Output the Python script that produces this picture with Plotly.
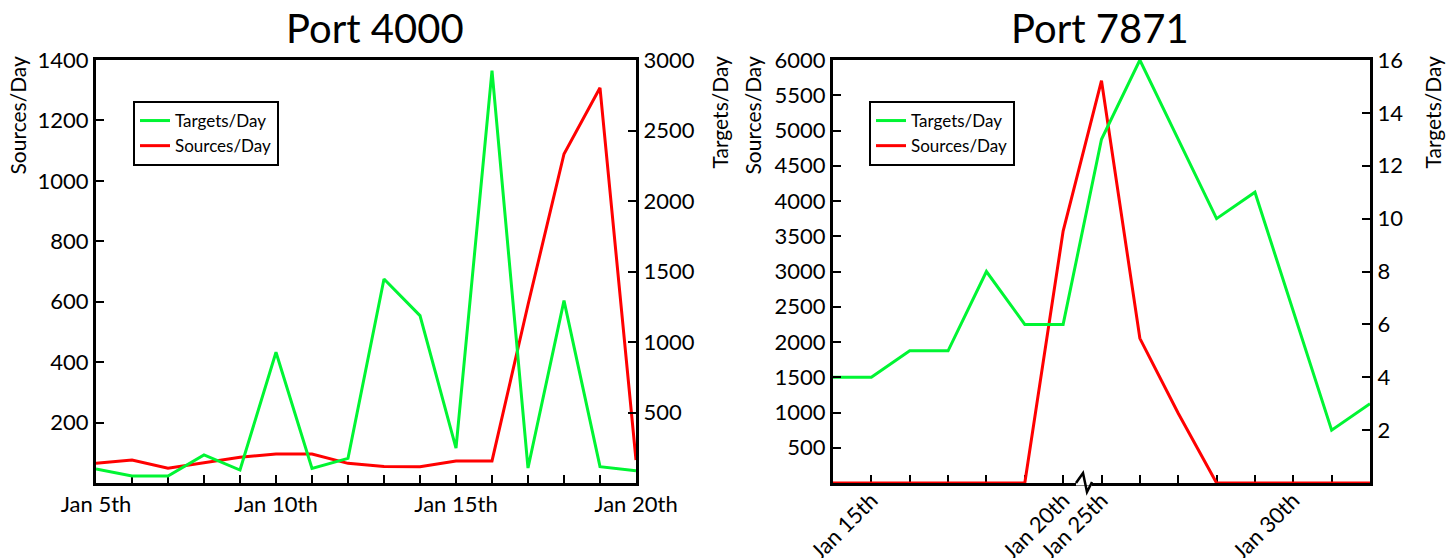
import plotly.graph_objects as go

# ---------------- data ----------------
# Port 4000
p4000_days = ["Jan 5", "Jan 6", "Jan 7", "Jan 8", "Jan 9", "Jan 10", "Jan 11", "Jan 12",
              "Jan 13", "Jan 14", "Jan 15", "Jan 16", "Jan 17", "Jan 18", "Jan 19", "Jan 20"]
p4000_targets = [99, 50, 50, 199, 92, 927, 104, 175, 1447, 1187, 248, 2924, 106, 1293, 116, 87]
p4000_sources = [65, 76, 49, 68, 85, 96, 96, 65, 55, 54, 73, 73, 590, 1089, 1308, 76]
p4000_label_days = ["Jan 5", "Jan 10", "Jan 15", "Jan 20"]
p4000_label_text = ["Jan 5th", "Jan 10th", "Jan 15th", "Jan 20th"]
p4000_src_ticks = [200, 400, 600, 800, 1000, 1200, 1400]
p4000_tgt_ticks = [500, 1000, 1500, 2000, 2500, 3000]

# Port 7871 (axis broken between Jan 20 and Jan 25)
p7871_days = ["Jan 14", "Jan 15", "Jan 16", "Jan 17", "Jan 18", "Jan 19", "Jan 20",
              "Jan 25", "Jan 26", "Jan 27", "Jan 28", "Jan 29", "Jan 30", "Jan 31", "Feb 1"]
p7871_targets = [4, 4, 5, 5, 8, 6, 6, 13, 16, 13, 10, 11, 6.5, 2, 3]
p7871_sources = [0, 0, 0, 0, 0, 0, 3574, 5706, 2052, 989, 0, 0, 0, 0, 0]
p7871_label_days = ["Jan 15", "Jan 20", "Jan 25", "Jan 30"]
p7871_label_text = ["Jan 15th", "Jan 20th", "Jan 25th", "Jan 30th"]
p7871_src_ticks = list(range(500, 6001, 500))
p7871_tgt_ticks = [2, 4, 6, 8, 10, 12, 14, 16]

GREEN = "#00F533"
RED = "#FF0000"
FONT = "Lato"
OFF = 8                      # page body margin in the browser
W, H = 1455 - OFF, 558 - OFF


def px_x(x):
    return (x - OFF) / W


def px_y(y):
    return 1 - (y - OFF) / H


def ticktext(days, label_days, label_text):
    m = dict(zip(label_days, label_text))
    return [m.get(d, "") for d in days]


fig = go.Figure()

# left subplot
fig.add_trace(go.Scatter(x=p4000_days, y=p4000_targets, name="Targets/Day", mode="lines",
                         line=dict(color=GREEN, width=3), xaxis="x", yaxis="y2", legend="legend"))
fig.add_trace(go.Scatter(x=p4000_days, y=p4000_sources, name="Sources/Day", mode="lines",
                         line=dict(color=RED, width=3), xaxis="x", yaxis="y", legend="legend"))
# right subplot
fig.add_trace(go.Scatter(x=p7871_days, y=p7871_targets, name="Targets/Day", mode="lines",
                         line=dict(color=GREEN, width=3), xaxis="x2", yaxis="y4", legend="legend2"))
fig.add_trace(go.Scatter(x=p7871_days, y=p7871_sources, name="Sources/Day", mode="lines",
                         line=dict(color=RED, width=3), xaxis="x2", yaxis="y3", legend="legend2"))

tickfont = dict(family=FONT, size=22, color="black")
ydom = [px_y(483), px_y(60)]
dom1 = [px_x(96), px_x(636)]
dom2 = [px_x(833), px_x(1370)]

common_axis = dict(showline=True, linecolor="black", linewidth=3, ticks="inside",
                   ticklen=8, tickwidth=2, tickcolor="black", showgrid=False,
                   zeroline=False, tickfont=tickfont, automargin=False)

# decorative outward tick stubs at labelled dates (positions = index of labelled days)
idx4000 = [p4000_days.index(d) for d in p4000_label_days]
idx7871 = [p7871_days.index(d) for d in p7871_label_days]
stub_axis = dict(showline=False, ticks="outside", ticklen=7, tickwidth=2, tickcolor="black",
                 showticklabels=False, showgrid=False, zeroline=False, tickmode="array",
                 automargin=False, type="linear")

fig.update_layout(
    width=W, height=H,
    margin=dict(l=0, r=0, t=0, b=0),
    paper_bgcolor="white", plot_bgcolor="white",
    font=dict(family=FONT, color="black"),
    xaxis=dict(domain=dom1, anchor="y", type="category", range=[0, len(p4000_days) - 1],
               tickmode="array", tickvals=p4000_days,
               ticktext=ticktext(p4000_days, p4000_label_days, p4000_label_text),
               mirror=True, tickangle=0, layer="below traces", **common_axis),
    yaxis=dict(domain=ydom, anchor="x", range=[0, 1400], tickmode="array",
               tickvals=p4000_src_ticks, side="left", **common_axis),
    yaxis2=dict(anchor="x", overlaying="y", side="right", range=[0, 3000], tickmode="array",
                tickvals=p4000_tgt_ticks, **common_axis),
    xaxis2=dict(domain=dom2, anchor="y3", type="category", range=[0, len(p7871_days) - 1],
                tickmode="array", tickvals=p7871_days,
                ticktext=ticktext(p7871_days, p7871_label_days, p7871_label_text),
                mirror=True, tickangle=-45, layer="below traces", ticklabelstandoff=-7,
                **common_axis),
    yaxis3=dict(domain=ydom, anchor="x2", range=[0, 6000], tickmode="array",
                tickvals=p7871_src_ticks, side="left", **common_axis),
    yaxis4=dict(anchor="x2", overlaying="y3", side="right", range=[0, 16], tickmode="array",
                tickvals=p7871_tgt_ticks, **common_axis),
    xaxis3=dict(overlaying="x", anchor="y", range=[0, len(p4000_days) - 1],
                tickvals=idx4000, side="bottom", **stub_axis),
    xaxis4=dict(overlaying="x2", anchor="y3", range=[0, len(p7871_days) - 1],
                tickvals=idx7871, side="bottom", **stub_axis),
    legend=dict(x=px_x(133), y=px_y(101), xanchor="left", yanchor="top",
                bordercolor="black", borderwidth=2, bgcolor="white",
                font=dict(family=FONT, size=17, color="black"), itemwidth=30,
                traceorder="normal", tracegroupgap=0),
    legend2=dict(x=px_x(869), y=px_y(101), xanchor="left", yanchor="top",
                 bordercolor="black", borderwidth=2, bgcolor="white",
                 font=dict(family=FONT, size=17, color="black"), itemwidth=30,
                 traceorder="normal", tracegroupgap=0),
    showlegend=True,
)

# titles and axis titles
anns = [
    dict(text="Port 4000", x=px_x(375), y=px_y(28), font=dict(size=40)),
    dict(text="Port 7871", x=px_x(1100), y=px_y(28), font=dict(size=40)),
]
for a in anns:
    a.update(xref="paper", yref="paper", showarrow=False, xanchor="center", yanchor="middle")
for txt, xc in [("Sources/Day", 17), ("Targets/Day", 719), ("Sources/Day", 752), ("Targets/Day", 1432)]:
    anns.append(dict(text=txt, x=px_x(xc), y=px_y(54), xref="paper", yref="paper",
                     showarrow=False, textangle=-90, xanchor="center", yanchor="top",
                     font=dict(size=21)))
fig.update_layout(annotations=anns)

# axis break glyph on the right subplot x-axis
bx = 1082
fig.add_shape(type="line", xref="paper", yref="paper", x0=px_x(bx - 6), x1=px_x(bx + 10),
              y0=px_y(483), y1=px_y(483), line=dict(color="white", width=5), layer="above")
zig = [(bx - 6, 483), (bx + 1, 473), (bx + 5, 492), (bx + 10, 482)]
path = "M " + " L ".join(f"{px_x(x):.5f},{px_y(y):.5f}" for x, y in zig)
fig.add_shape(type="path", xref="paper", yref="paper", path=path,
              line=dict(color="black", width=2.5), layer="above")

fig.write_html("out.html")
